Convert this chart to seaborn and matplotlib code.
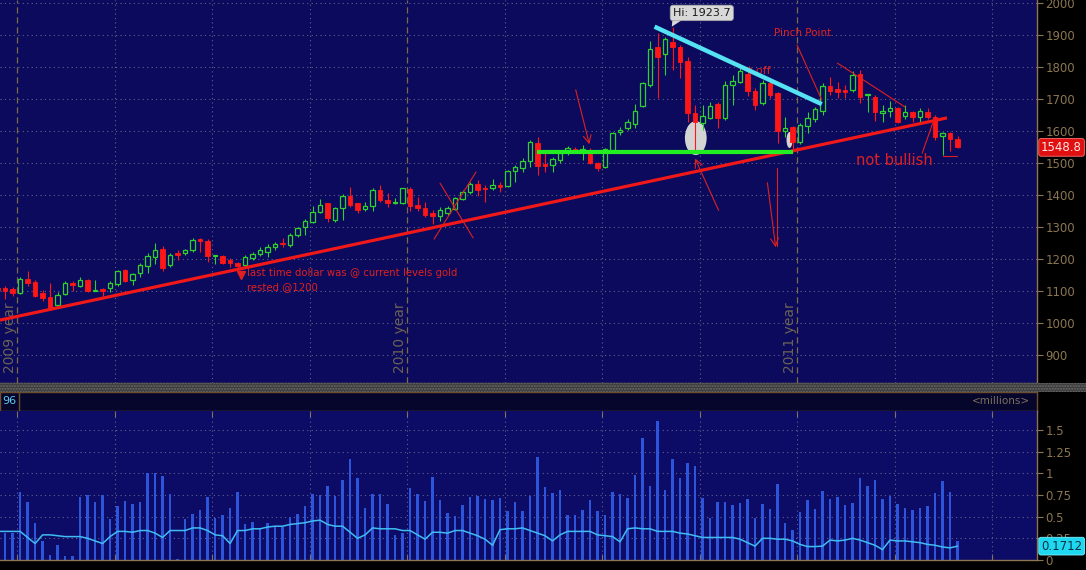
import numpy as np
import pandas as pd
import matplotlib
matplotlib.use("Agg")
import matplotlib.pyplot as plt
import seaborn as sns
from matplotlib.patches import Ellipse, Rectangle, Polygon

# weekly gold candles (index 0 = first visible bar)
opens = [1110, 1110, 1106, 1095, 1137, 1129, 1095, 1080, 1056, 1091,
         1124, 1117, 1134, 1100, 1106, 1108, 1121, 1166, 1134, 1155,
         1179, 1205, 1230, 1181, 1218, 1218, 1228, 1262, 1257, 1209,
         1209, 1197, 1186, 1181, 1202, 1215, 1223, 1236, 1251, 1244,
         1275, 1299, 1317, 1348, 1374, 1322, 1358, 1397, 1374, 1355,
         1366, 1416, 1384, 1376, 1376, 1418, 1369, 1358, 1345, 1335,
         1345, 1355, 1387, 1410, 1434, 1423, 1423, 1431, 1428, 1476,
         1485, 1507, 1564, 1496, 1494, 1509, 1535, 1544, 1539, 1527,
         1500, 1487, 1540, 1596, 1608, 1621, 1679, 1744, 1861, 1842,
         1879, 1861, 1820, 1657, 1625, 1642, 1683, 1640, 1744, 1754,
         1778, 1726, 1686, 1749, 1718, 1601, 1611, 1567, 1616, 1636,
         1663, 1741, 1730, 1728, 1728, 1778, 1712, 1707, 1657, 1664,
         1671, 1646, 1658, 1645, 1660, 1645, 1584, 1593, 1574]
highs = [1114, 1115, 1113, 1144, 1162, 1134, 1103, 1126, 1098, 1131,
         1131, 1143, 1137, 1134, 1108, 1131, 1166, 1169, 1155, 1186,
         1218, 1249, 1241, 1220, 1228, 1232, 1265, 1265, 1261, 1214,
         1212, 1202, 1192, 1212, 1223, 1236, 1247, 1254, 1265, 1282,
         1301, 1324, 1366, 1386, 1376, 1363, 1403, 1426, 1376, 1379,
         1421, 1431, 1407, 1392, 1423, 1426, 1393, 1379, 1353, 1361,
         1366, 1395, 1416, 1442, 1447, 1431, 1449, 1442, 1478, 1494,
         1515, 1572, 1582, 1535, 1520, 1537, 1553, 1551, 1556, 1546,
         1504, 1548, 1598, 1611, 1637, 1683, 1754, 1881, 1905, 1895,
         1924, 1869, 1832, 1681, 1681, 1692, 1692, 1757, 1775, 1796,
         1791, 1733, 1759, 1754, 1723, 1645, 1616, 1626, 1660, 1676,
         1749, 1768, 1754, 1744, 1789, 1791, 1717, 1712, 1681, 1694,
         1676, 1681, 1664, 1671, 1671, 1650, 1598, 1598, 1585]
lows = [1100, 1074, 1083, 1091, 1117, 1080, 1069, 1041, 1052, 1088,
        1101, 1112, 1096, 1099, 1084, 1098, 1117, 1127, 1119, 1145,
        1155, 1183, 1164, 1176, 1197, 1213, 1223, 1222, 1192, 1183,
        1184, 1176, 1165, 1174, 1197, 1209, 1205, 1228, 1236, 1236,
        1270, 1275, 1311, 1343, 1315, 1317, 1322, 1361, 1345, 1351,
        1351, 1379, 1361, 1371, 1372, 1351, 1351, 1332, 1308, 1320,
        1338, 1353, 1384, 1403, 1397, 1379, 1416, 1410, 1426, 1442,
        1473, 1488, 1462, 1473, 1471, 1499, 1525, 1530, 1509, 1497,
        1475, 1483, 1537, 1587, 1603, 1608, 1676, 1738, 1704, 1775,
        1791, 1765, 1629, 1535, 1603, 1637, 1609, 1634, 1681, 1749,
        1709, 1666, 1681, 1702, 1561, 1582, 1535, 1559, 1593, 1629,
        1650, 1712, 1702, 1702, 1723, 1689, 1660, 1632, 1629, 1645,
        1624, 1637, 1629, 1624, 1636, 1572, 1525, 1536, 1546]
closes = [1104, 1101, 1093, 1137, 1124, 1084, 1079, 1046, 1087, 1124,
          1118, 1134, 1099, 1104, 1101, 1126, 1162, 1131, 1153, 1181,
          1209, 1228, 1173, 1214, 1212, 1228, 1259, 1257, 1209, 1212,
          1188, 1186, 1178, 1205, 1216, 1228, 1238, 1247, 1247, 1275,
          1296, 1320, 1348, 1369, 1327, 1358, 1397, 1369, 1353, 1366,
          1416, 1384, 1374, 1379, 1421, 1366, 1358, 1338, 1334, 1353,
          1358, 1390, 1410, 1434, 1416, 1418, 1431, 1426, 1475, 1489,
          1507, 1567, 1491, 1492, 1512, 1530, 1546, 1537, 1544, 1501,
          1485, 1543, 1593, 1603, 1627, 1662, 1749, 1856, 1830, 1887,
          1861, 1815, 1655, 1627, 1646, 1679, 1642, 1744, 1756, 1789,
          1726, 1681, 1751, 1712, 1601, 1610, 1567, 1619, 1642, 1668,
          1741, 1726, 1721, 1721, 1775, 1707, 1717, 1660, 1663, 1673,
          1629, 1659, 1645, 1664, 1643, 1582, 1593, 1574, 1548.8]

# volume in millions and its average line
volume = [0.30, 0.31, 0.31, 0.78, 0.67, 0.43, 0.22, 0.06, 0.17, 0.05, 0.05,
          0.73, 0.75, 0.67, 0.75, 0.47, 0.62, 0.68, 0.65, 0.67, 1.00,
          1.00, 0.97, 0.76, 0.01, 0.47, 0.53, 0.58, 0.73, 0.49, 0.52,
          0.60, 0.78, 0.41, 0.44, 0.36, 0.43, 0.38, 0.38, 0.50, 0.53,
          0.62, 0.76, 0.75, 0.85, 0.74, 0.92, 1.17, 0.95, 0.60, 0.76,
          0.76, 0.65, 0.29, 0.31, 0.83, 0.76, 0.68, 0.96, 0.69, 0.54,
          0.51, 0.63, 0.73, 0.74, 0.70, 0.69, 0.72, 0.57, 0.67, 0.57,
          0.74, 1.19, 0.84, 0.77, 0.81, 0.52, 0.52, 0.58, 0.69, 0.56,
          0.52, 0.78, 0.76, 0.72, 0.98, 1.41, 0.85, 1.60, 0.81, 1.16,
          0.95, 1.12, 1.09, 0.71, 0.49, 0.67, 0.67, 0.64, 0.66, 0.70,
          0.48, 0.65, 0.59, 0.88, 0.43, 0.35, 0.55, 0.69, 0.59, 0.80,
          0.70, 0.73, 0.64, 0.66, 0.95, 0.85, 0.92, 0.70, 0.74, 0.65,
          0.60, 0.58, 0.60, 0.62, 0.77, 0.91, 0.79, 0.22]
volume_avg = [0.33, 0.33, 0.33, 0.33, 0.26, 0.19, 0.29, 0.29, 0.28, 0.27,
              0.27, 0.27, 0.25, 0.22, 0.19, 0.27, 0.33, 0.33, 0.32, 0.34,
              0.34, 0.31, 0.26, 0.34, 0.34, 0.34, 0.37, 0.37, 0.34, 0.29,
              0.28, 0.19, 0.34, 0.34, 0.36, 0.36, 0.38, 0.39, 0.39, 0.41,
              0.42, 0.43, 0.45, 0.46, 0.41, 0.39, 0.39, 0.32, 0.25, 0.29,
              0.37, 0.36, 0.36, 0.36, 0.34, 0.34, 0.29, 0.24, 0.32, 0.32,
              0.31, 0.34, 0.34, 0.31, 0.28, 0.24, 0.17, 0.35, 0.36, 0.36,
              0.37, 0.34, 0.31, 0.28, 0.22, 0.29, 0.33, 0.33, 0.33, 0.33,
              0.29, 0.28, 0.27, 0.21, 0.36, 0.37, 0.36, 0.36, 0.33, 0.33,
              0.33, 0.31, 0.30, 0.28, 0.26, 0.26, 0.26, 0.26, 0.26, 0.24,
              0.20, 0.16, 0.25, 0.25, 0.24, 0.24, 0.22, 0.18, 0.155, 0.155,
              0.16, 0.23, 0.22, 0.23, 0.25, 0.23, 0.20, 0.17, 0.12, 0.23,
              0.22, 0.22, 0.21, 0.20, 0.18, 0.17, 0.15, 0.14, 0.16]

price_ticks = [900, 1000, 1100, 1200, 1300, 1400, 1500, 1600, 1700, 1800, 1900, 2000]
vol_ticks = [0, 0.25, 0.5, 0.75, 1, 1.25, 1.5]
vol_tick_labels = ["0", "0.25", "0.5", "0.75", "1", "1.25", "1.5"]
# quarter dividers (in bar units); year starts get a label
grid_idx = [2.6, 15.6, 28.6, 41.6, 54.6, 67.6, 80.6, 93.6, 106.6, 119.6, 132.6]
year_idx = [2.6, 54.6, 106.6]
year_labels = ["2009 year", "2010 year", "2011 year"]

# hand-drawn annotations (bar index, price)
support_line = [(0.3, 1009), (126.6, 1641)]
neckline = [(71.9, 1534), (106.1, 1534)]
resistance_line = [(87.6, 1926), (109.9, 1684)]

sns.set_style("dark")
plt.rcParams["font.family"] = ["DejaVu Sans"]

BG = "#0b0a5c"
VOL_BG = "#0c0b66"
TAN = "#8c7652"
GRID = "#62628a"
UP = "#2fd02f"
DOWN = "#ff1616"
ANNOT = "#e02020"

df = pd.DataFrame({"idx": np.arange(len(closes)), "open": opens, "high": highs,
                   "low": lows, "close": closes, "volume": volume, "vavg": volume_avg})
up = df[df.close >= df.open]
dn = df[df.close < df.open]

fig = plt.figure(figsize=(10.86, 5.70), dpi=100, facecolor="black")
ax = fig.add_axes([0, 187 / 570, 1037 / 1086, 383 / 570])
hdr = fig.add_axes([0, 159 / 570, 1037 / 1086, 19 / 570])
axv = fig.add_axes([0, 10 / 570, 1037 / 1086, 149 / 570])

# separator band between panels
fig.patches.append(Rectangle((0, 178 / 570), 1, 9 / 570, transform=fig.transFigure,
                             facecolor="#3c3c3c", edgecolor="#6a6a6a", hatch="......", lw=0))

# ---- price panel
ax.set_facecolor(BG)
ax.grid(False)
ax.set_xlim(0.32, 138.6)
ax.set_ylim(812.5, 2009.4)
for p in price_ticks:
    ax.axhline(p, color=GRID, ls=(0, (1, 3)), lw=0.8, zorder=1)
for g in grid_idx:
    if g in year_idx:
        ax.axvline(g, color="#7c6a4c", ls=(0, (5, 3)), lw=0.9, zorder=1)
    else:
        ax.axvline(g, color=GRID, ls=(0, (1, 3)), lw=0.8, zorder=1)
for g, lab in zip(year_idx, year_labels):
    ax.text(g - 0.95, 845, lab, rotation=90, ha="center", va="bottom",
            color="#6c6354", fontsize=10, zorder=2)

# markup under the candles
ax.add_patch(Ellipse((93.1, 1578), 2.9, 106, facecolor="#d4d4d4", edgecolor="none", zorder=2))
ax.add_patch(Ellipse((105.6, 1572), 0.8, 50, facecolor="#d4d4d4", edgecolor="none", zorder=2))
ax.text(101.6, 1787, "t off", color=ANNOT, fontsize=8, ha="center", va="center", zorder=2)

# candles
ax.vlines(dn.idx, dn.low, dn.high, color=DOWN, lw=0.8, zorder=3)
ax.vlines(up.idx, up.close, up.high, color=UP, lw=0.8, zorder=3)
ax.vlines(up.idx, up.low, up.open, color=UP, lw=0.8, zorder=3)
ax.bar(dn.idx, dn.open - dn.close, bottom=dn.close, width=0.62,
       color=DOWN, edgecolor=DOWN, lw=0.6, zorder=3)
ax.bar(up.idx, up.close - up.open, bottom=up.open, width=0.62,
       facecolor=BG, edgecolor=UP, lw=0.9, zorder=3)

# trend lines
ax.plot(*zip(*support_line), color="#f01818", lw=2.3, zorder=4, solid_capstyle="butt")
ax.plot(*zip(*neckline), color="#22ee22", lw=3.0, zorder=4, solid_capstyle="butt")
ax.plot(*zip(*resistance_line), color="#55e2f2", lw=3.2, zorder=4, solid_capstyle="butt")

# thin annotation strokes
thin = dict(color=ANNOT, lw=0.8, zorder=4)
ax.plot([59.0, 63.4], [1437, 1266], **thin)
ax.plot([63.8, 58.2], [1472, 1262], **thin)
ax.plot([106.6, 109.9], [1869, 1697], **thin)
ax.plot([112.0, 121.0], [1812, 1675], **thin)
ax.plot([123.3, 124.7], [1531, 1625], **thin)
ax.plot([126.0, 127.9], [1522, 1522], **thin)
ax.plot([103.9, 103.9], [1484, 1240], **thin)
arrow = dict(arrowstyle="->", color=ANNOT, lw=0.8, mutation_scale=14)
ax.annotate("", xy=(79.0, 1550), xytext=(77.0, 1737), arrowprops=arrow, zorder=4)
ax.annotate("", xy=(92.85, 1522), xytext=(96.3, 1344), arrowprops=arrow, zorder=4)
ax.annotate("", xy=(103.8, 1228), xytext=(102.6, 1447), arrowprops=arrow, zorder=4)
ax.plot([32.4], [1150], marker="v", color=ANNOT, ms=6, zorder=4)

ax.text(107.4, 1906, "Pinch Point", color=ANNOT, fontsize=7.5, ha="center", va="center", zorder=5)
ax.text(119.6, 1509, "not bullish", color=ANNOT, fontsize=10.5, ha="center", va="center", zorder=5)
ax.text(33.2, 1156, "last time dollar was @ current levels gold", color=ANNOT,
        fontsize=7.3, ha="left", va="center", zorder=5)
ax.text(33.2, 1112, "rested @1200", color=ANNOT, fontsize=7.3, ha="left", va="center", zorder=5)

# high bubble
ax.add_patch(Polygon([(90.0, 1952), (91.6, 1952), (89.9, 1926)], closed=True,
                     facecolor="#d8d8d8", edgecolor="none", zorder=5))
ax.text(93.9, 1969, "Hi: 1923.7", color="#1a1a1a", fontsize=8, ha="center", va="center", zorder=6,
        bbox=dict(boxstyle="round,pad=0.25", fc="#d8d8d8", ec="#a0a0a0", lw=0.5))

ax.yaxis.tick_right()
ax.set_yticks(price_ticks)
ax.set_yticklabels([str(p) for p in price_ticks])
ax.set_xticks(grid_idx)
ax.tick_params(axis="y", colors=TAN, labelcolor=TAN, labelsize=8.5, length=4, width=0.8, pad=2, direction="out")
ax.tick_params(axis="x", colors=TAN, length=4, direction="in", labelbottom=False)
for s in ["left", "top"]:
    ax.spines[s].set_visible(False)
for s in ["right", "bottom"]:
    ax.spines[s].set_color(TAN)
    ax.spines[s].set_linewidth(1)
ax.annotate("1548.8", xy=(1.004, 1548.8), xycoords=("axes fraction", "data"), ha="left", va="center",
            fontsize=8.5, color="#ffe4e4", annotation_clip=False,
            bbox=dict(boxstyle="round,pad=0.2", fc="#e01010", ec="#ff7070", lw=0.6))

# ---- header strip
hdr.set_facecolor("#06062c")
hdr.grid(False)
hdr.set_xticks([])
hdr.set_yticks([])
for s in hdr.spines.values():
    s.set_color("#6e4e2e")
    s.set_linewidth(1)
hdr.axvline(19 / 1037, color="#6e4e2e", lw=1)
hdr.text(0.002, 0.5, "96", color="#5ec8ea", fontsize=8, ha="left", va="center", transform=hdr.transAxes)
hdr.text(0.993, 0.5, "<millions>", color="#7c705e", fontsize=7.5, ha="right", va="center",
         transform=hdr.transAxes)

# ---- volume panel
axv.set_facecolor(VOL_BG)
axv.grid(False)
axv.set_xlim(0.32, 138.6)
axv.set_ylim(0, 1.719)
for v in vol_ticks[1:]:
    axv.axhline(v, color=GRID, ls=(0, (1, 3)), lw=0.8, zorder=1)
for g in grid_idx:
    axv.axvline(g, color=GRID, ls=(0, (1, 3)), lw=0.8, zorder=1)
axv.bar(df.idx, df.volume, width=0.32, color="#2d55dc", edgecolor="none", lw=0, zorder=2)
sns.lineplot(data=df, x="idx", y="vavg", ax=axv, color="#3fbcf2", lw=1.1, zorder=3)
axv.set_xlabel("")
axv.set_ylabel("")
axv.yaxis.tick_right()
axv.set_yticks(vol_ticks)
axv.set_yticklabels(vol_tick_labels)
axv.set_xticks(grid_idx)
axv.tick_params(axis="y", colors=TAN, labelcolor=TAN, labelsize=8.5, length=4, width=0.8, pad=2)
axv.tick_params(axis="x", colors=TAN, length=4, direction="in", top=True, bottom=True,
                labelbottom=False)
for s in ["left", "top"]:
    axv.spines[s].set_visible(False)
for s in ["right", "bottom"]:
    axv.spines[s].set_color(TAN)
    axv.spines[s].set_linewidth(1)
axv.annotate("0.1712", xy=(1.004, volume_avg[-1]), xycoords=("axes fraction", "data"), ha="left",
             va="center", fontsize=8.5, color="#0c3040", annotation_clip=False, zorder=10,
             bbox=dict(boxstyle="round,pad=0.2", fc="#1ed8f2", ec="#80f0ff", lw=0.6))

fig.savefig("out.png", dpi=100, facecolor="black")
